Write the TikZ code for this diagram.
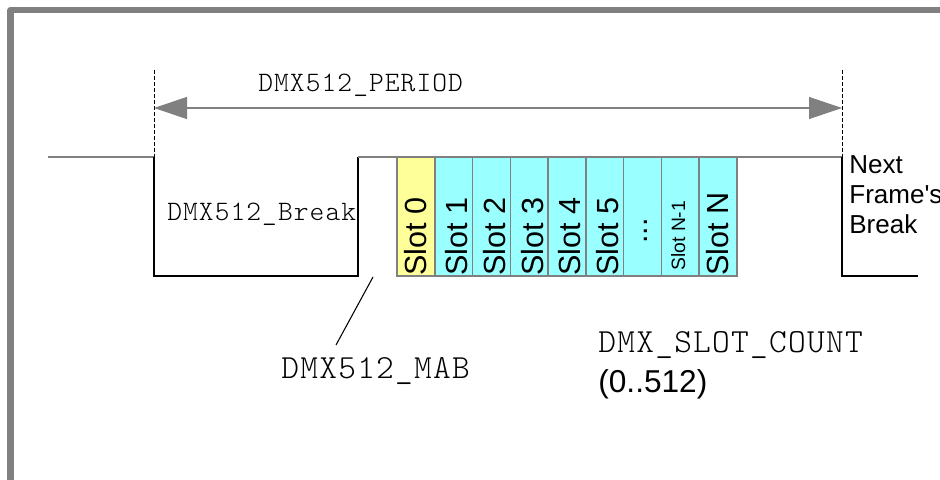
\documentclass[tikz,border=0pt]{standalone}
\usepackage{fontspec}
\setmainfont{Liberation Sans}
\newfontfamily\courier[LetterSpace=3.75]{Latin Modern Mono Light}
\usetikzlibrary{arrows.meta}
\definecolor{slotyellow}{RGB}{255,255,153}
\definecolor{slotcyan}{RGB}{153,255,255}
\definecolor{framegray}{RGB}{128,128,128}

\begin{document}
\begin{tikzpicture}[
	sig/.style={line width=0.6pt},
	sighigh/.style={line width=0.6pt, color=framegray},
	slotbox/.style={draw=framegray, line width=0.6pt},
	slotlabel/.style={rotate=90, anchor=base west, inner sep=0, font=\fontsize{17.4}{20}\selectfont},
	monosmall/.style={anchor=base west, inner sep=0, font=\courier\fontsize{16}{19}\selectfont},
	monobig/.style={anchor=base west, inner sep=0, font=\courier\fontsize{19.2}{22}\selectfont}
	]
		\useasboundingbox (0,0) rectangle (18.8,9.58);
		
		% frame
		\draw [framegray, line width=3.8pt, line join=round] (0.214,-0.2) -- (0.214,9.38) -- (19,9.38);
		
		% period marks
		\coordinate (t0) at (3.08,6.44);
		\coordinate (t1) at (16.84,6.44);
		\coordinate (t0top) at (3.08,8.18);
		\coordinate (t1top) at (16.84,8.18);
		\coordinate (p0) at (3.08,7.42);
		\coordinate (p1) at (16.84,7.42);
		\draw [line width=0.5pt, dash pattern=on 2.3pt off 1.1pt] (t0top) -- (t0);
		\draw [line width=0.5pt, dash pattern=on 2.3pt off 1.1pt] (t1top) -- (t1);
		\draw [framegray, line width=0.6pt, {Triangle[length=0.66cm, width=0.44cm]}-{Triangle[length=0.66cm, width=0.44cm]}] (p0) -- (p1);
		\node [monosmall] (period) at (5.16, 7.74) {DMX512\_PERIOD};
		
		% signal
		\draw [sighigh] (0.96,6.44) -- (t0);
		\draw [sig] (t0) -- (3.08,4.06) -- (7.16,4.06) -- (7.16,6.44);
		\draw [sighigh] (7.16,6.44) -- (7.94,6.44);
		\draw [sighigh] (14.74,6.44) -- (t1);
		\draw [sig] (t1) -- (16.84,4.06) -- (18.36,4.06);
		
		% slots
		\draw [slotbox, fill=slotyellow] (7.94,4.06) rectangle (8.70,6.44);
		\draw [slotbox, fill=slotcyan] (8.70,4.06) rectangle (9.45,6.44);
		\draw [slotbox, fill=slotcyan] (9.45,4.06) rectangle (10.21,6.44);
		\draw [slotbox, fill=slotcyan] (10.21,4.06) rectangle (10.96,6.44);
		\draw [slotbox, fill=slotcyan] (10.96,4.06) rectangle (11.72,6.44);
		\draw [slotbox, fill=slotcyan] (11.72,4.06) rectangle (12.47,6.44);
		\draw [slotbox, fill=slotcyan] (12.47,4.06) rectangle (13.23,6.44);
		\draw [slotbox, fill=slotcyan] (13.23,4.06) rectangle (13.98,6.44);
		\draw [slotbox, fill=slotcyan] (13.98,4.06) rectangle (14.74,6.44);
		
		\node [slotlabel] (slot0) at (8.52,4.06) {Slot 0};
		\node [slotlabel] (slot1) at (9.34,4.06) {Slot 1};
		\node [slotlabel] (slot2) at (10.10,4.06) {Slot 2};
		\node [slotlabel] (slot3) at (10.86,4.06) {Slot 3};
		\node [slotlabel] (slot4) at (11.60,4.06) {Slot 4};
		\node [slotlabel] (slot5) at (12.36,4.06) {Slot 5};
		\node [slotlabel] (dots) at (12.94,4.70) {...};
		\node [slotlabel, font=\fontsize{11}{13}\selectfont] (slotnm) at (13.70,4.16) {Slot N-1};
		\node [slotlabel] (slotn) at (14.56,4.06) {Slot N};
		
		% labels
		\node [monosmall] (brk) at (3.34,5.18) {DMX512\_Break};
		\node [anchor=north west, inner sep=0, align=left, font=\fontsize{14.8}{17.1}\selectfont] (next) at (16.98,6.48) {Next\\Frame\textquotesingle s\\Break};
		
		\coordinate (mabtop) at (7.46,4.04);
		\coordinate (mabend) at (6.72,2.68);
		\draw [sig] (mabtop) -- (mabend);
		\node [monobig] (mab) at (5.62,2.02) {DMX512\_MAB};
		
		\node [monobig] (count) at (11.96,2.54) {DMX\_SLOT\_COUNT};
		\node [anchor=base west, inner sep=0, font=\fontsize{18}{21}\selectfont] (range) at (11.96,1.74) {(0..512)};

	\end{tikzpicture}
\end{document}
